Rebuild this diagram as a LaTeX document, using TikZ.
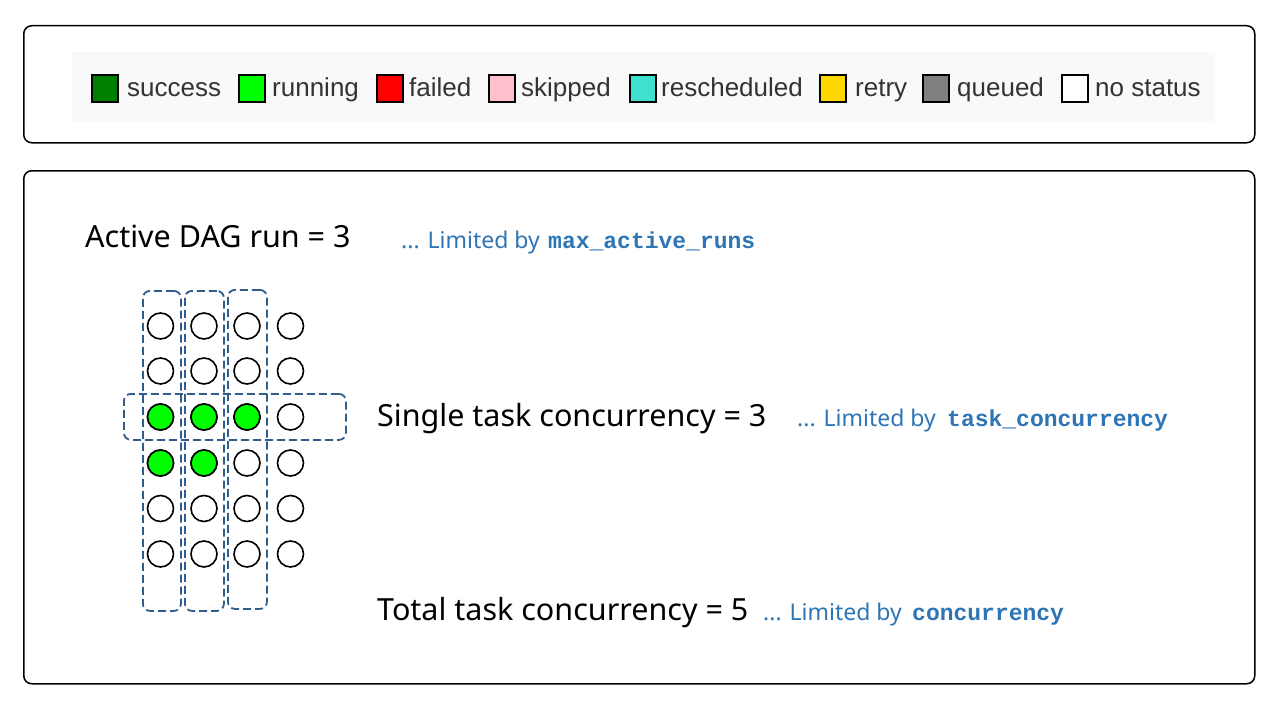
\documentclass[tikz,border=0pt]{standalone}
\usepackage{fontspec}
\setmainfont{Noto Sans}
\setmonofont{Liberation Mono}
\newfontfamily\legendfont{Liberation Sans}
\definecolor{bgleg}{HTML}{F9F9F9}
\definecolor{legtxt}{HTML}{333333}
\definecolor{dashblue}{HTML}{2F5D8C}
\definecolor{limblue}{HTML}{2E75B6}
\definecolor{cSuccess}{HTML}{008000}
\definecolor{cRunning}{HTML}{00FF00}
\definecolor{cFailed}{HTML}{FF0000}
\definecolor{cSkipped}{HTML}{FFC0CB}
\definecolor{cResched}{HTML}{40E0D0}
\definecolor{cRetry}{HTML}{FFD700}
\definecolor{cQueued}{HTML}{808080}
\begin{document}
\begin{tikzpicture}[x=1pt,y=-1pt,
  frame/.style={draw=black, line width=1.5pt, rounded corners=8pt, anchor=north west, inner sep=0pt},
  legsq/.style={draw=black, line width=2pt, minimum width=26pt, minimum height=27pt, inner sep=0pt, anchor=north west},
  legtext/.style={font=\legendfont\fontsize{26}{30}\selectfont, text=legtxt, inner sep=0pt, anchor=base west},
  bigtext/.style={font=\fontsize{30.5}{36}\selectfont, text=black, inner sep=0pt, anchor=base west},
  limtext/.style={font=\fontsize{23}{28}\selectfont, text=limblue, inner sep=0pt, anchor=base west},
  codetext/.style={font=\ttfamily\bfseries\fontsize{23}{28}\selectfont, text=limblue, inner sep=0pt, anchor=base west},
  dashbox/.style={draw=dashblue, line width=1.8pt, dash pattern=on 8pt off 4pt, rounded corners=7pt, inner sep=0pt, anchor=north west},
  task/.style={circle, draw=black, line width=1.6pt, minimum size=26pt, inner sep=0pt, fill=white},
  run/.style={task, fill=cRunning}
]
\useasboundingbox (0,0) rectangle (1280,717);
\fill[white] (0,0) rectangle (1280,717);

% frames
\node[frame, minimum width=1231pt, minimum height=117pt] (topframe) at (23,25) {};
\node[frame, minimum width=1231pt, minimum height=513pt] (botframe) at (23,170) {};

% legend background
\node[fill=bgleg, inner sep=0pt, anchor=north west, minimum width=1143pt, minimum height=69pt] (legbg) at (72,52) {};

% legend items
\node[legsq, fill=cSuccess] (sq1) at (91,74) {};
\node[legtext] (lt1) at (127,96) {success};
\node[legsq, fill=cRunning] (sq2) at (238,74) {};
\node[legtext] (lt2) at (272,96) {running};
\node[legsq, fill=cFailed] (sq3) at (376,74) {};
\node[legtext] (lt3) at (409,96) {failed};
\node[legsq, fill=cSkipped] (sq4) at (488,74) {};
\node[legtext] (lt4) at (521,96) {skipped};
\node[legsq, fill=cResched] (sq5) at (629,74) {};
\node[legtext] (lt5) at (661,96) {rescheduled};
\node[legsq, fill=cRetry] (sq6) at (819,74) {};
\node[legtext] (lt6) at (855,96) {retry};
\node[legsq, fill=cQueued] (sq7) at (922,74) {};
\node[legtext] (lt7) at (957,96) {queued};
\node[legsq, fill=white] (sq8) at (1061,74) {};
\node[legtext] (lt8) at (1095,96) {no status};

% dashed groupings
\node[dashbox, minimum width=38pt, minimum height=320pt] (col1) at (142,290) {};
\node[dashbox, minimum width=39pt, minimum height=320pt] (col2) at (184,290) {};
\node[dashbox, minimum width=39pt, minimum height=319pt] (col3) at (227,289) {};
\node[dashbox, minimum width=222pt, minimum height=46pt] (row3) at (123,393) {};

% task circles
\foreach \r/\y in {1/326,2/371,3/417,4/463,5/508.5,6/554}{
  \foreach \c/\x in {1/160.5,2/204,3/247,4/290.5}{
    \node[task] (t\r\c) at (\x,\y) {};
  }
}
\node[run] (g31) at (t31) {};
\node[run] (g32) at (t32) {};
\node[run] (g33) at (t33) {};
\node[run] (g41) at (t41) {};
\node[run] (g42) at (t42) {};

% texts
\node[bigtext] (active) at (85,247) {Active DAG run = 3};
\node[limtext] (lim1) at (401,248) {... Limited by};
\node[codetext] (code1) at (548,248) {max\_active\_runs};

\node[bigtext] (single) at (377,426) {Single task concurrency = 3};
\node[limtext] (lim2) at (797,426) {... Limited by};
\node[codetext] (code2) at (947,426) {task\_concurrency};

\node[bigtext] (total) at (377,620) {Total task concurrency = 5};
\node[limtext] (lim3) at (763,620) {... Limited by};
\node[codetext] (code3) at (912,620) {concurrency};
\end{tikzpicture}
\end{document}
